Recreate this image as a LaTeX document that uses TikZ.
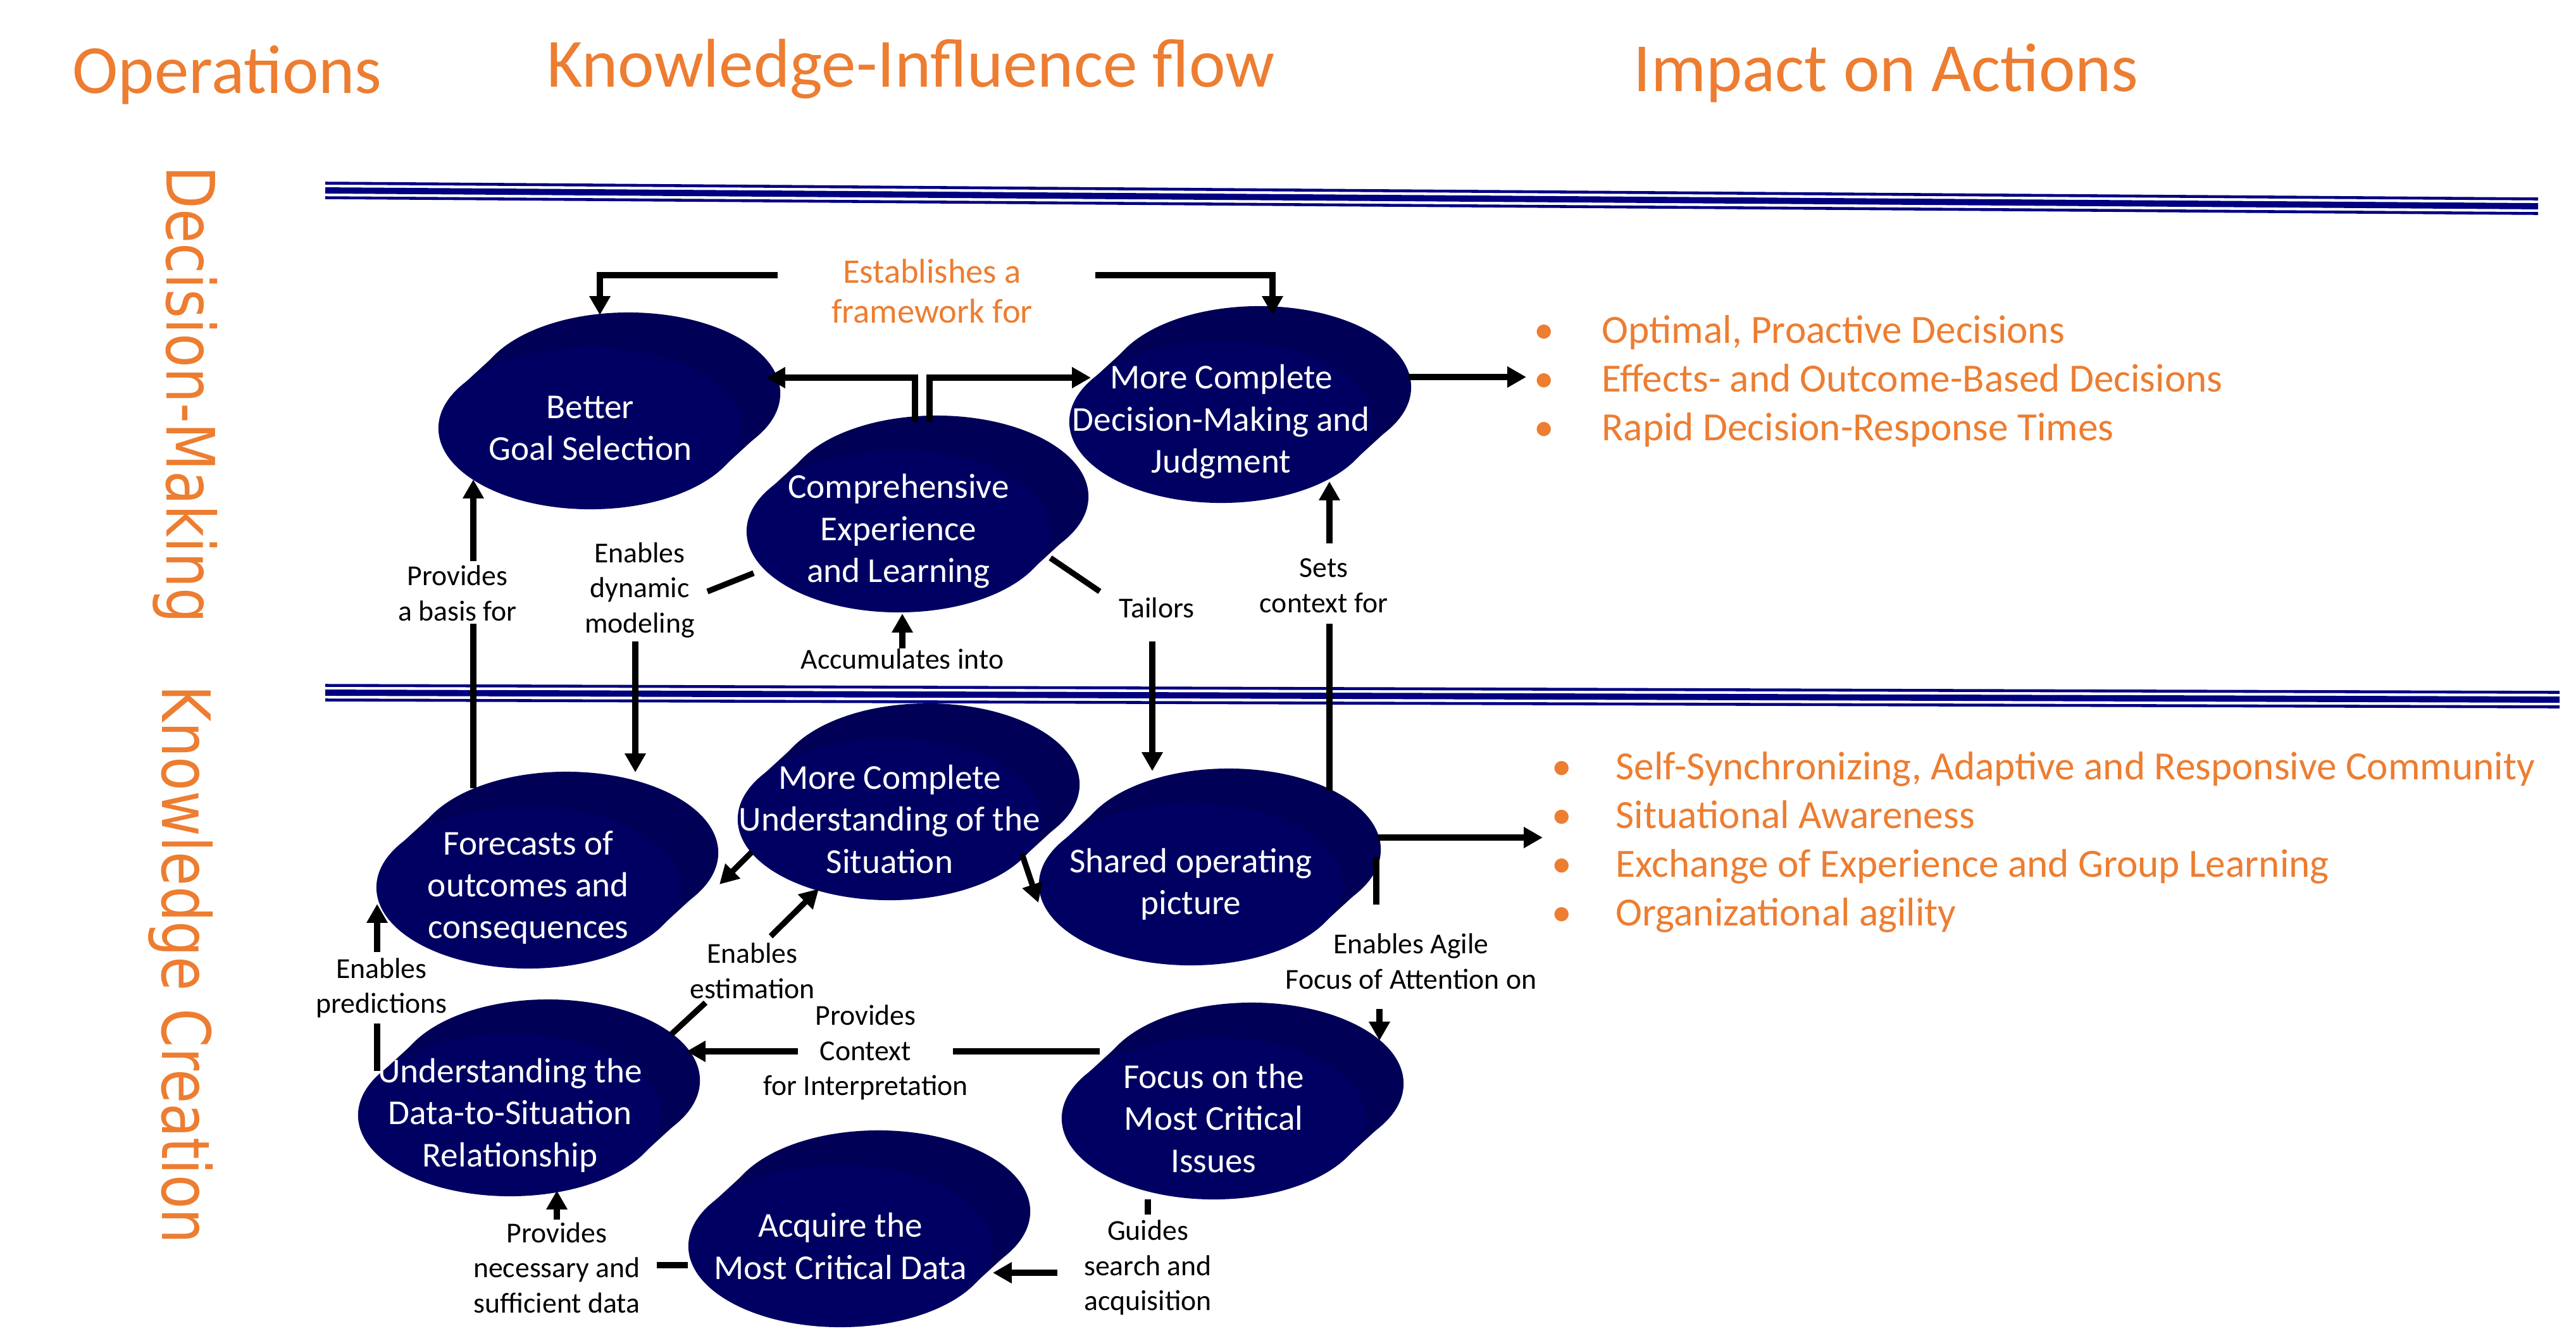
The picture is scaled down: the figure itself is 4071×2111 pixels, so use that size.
\documentclass[tikz,border=0pt]{standalone}
\usepackage{graphicx}
\usepackage{fontspec}
\setmainfont{Carlito}
\newfontfamily\sidefont{DejaVu Sans}
\usetikzlibrary{arrows.meta,calc}

\definecolor{navyline}{RGB}{0,0,128}
\definecolor{bubbledark}{RGB}{0,0,86}
\definecolor{bubblelight}{RGB}{0,0,98}
\definecolor{accent}{RGB}{237,125,49}

\tikzset{
  bubbletext/.style={text=white, align=center, font=\fontsize{15.7}{18.9}\selectfont, inner sep=0pt},
  linklabel/.style={align=center, font=\fontsize{13}{15.8}\selectfont, inner sep=0pt},
  accentlabel/.style={align=center, text=accent, font=\fontsize{15.5}{18}\selectfont, inner sep=0pt},
  link/.style={line width=2.6pt},
  arrowlink/.style={link, -{Triangle[length=8.5pt,width=9pt]}},
  heading/.style={text=accent, font=\fontsize{31}{37}\selectfont, anchor=base west, inner sep=0pt},
  sidelabel/.style={text=accent, font=\sidefont\fontsize{25}{30}\selectfont, rotate=-90, anchor=base, inner sep=0pt},
  impact/.style={text=accent, font=\fontsize{18}{21.9}\selectfont, anchor=west, align=left, inner sep=0pt}
}

% bubble: name, centre, text
\newcommand{\bubble}[3]{%
  \begin{scope}[shift={#2}]
    \fill[bubbledark] (60,-55) ellipse [x radius=2.4cm, y radius=1.28cm];
    \fill[bubbledark] (-207,-64) -- (-147,-119) -- (267,9) -- (207,64) -- cycle;
    \fill[bubblelight] (0,0) ellipse [x radius=2.4cm, y radius=1.28cm];
    \node[bubbletext] (#1) at (0,0) {#3};
  \end{scope}}

\begin{document}
\begin{tikzpicture}[x=0.01cm, y=-0.01cm]
\useasboundingbox (0,0) rectangle (4071,2111);

% headings
\node[heading] (ops) at (114,147) {Operations};
\node[heading] (kif) at (864,137) {Knowledge-Influence flow};
\node[heading] (ioa) at (2581,144) {Impact on Actions};
\node[sidelabel] (dm) at (263,624) {\scalebox{1}[1.2]{Decision-Making}};
\node[sidelabel] (kc) at (256,1525) {\scalebox{1}[1.2]{Knowledge Creation}};

% separators
\foreach \dy/\w in {-11.5/1.3pt, 0/2.8pt, 11.5/1.3pt} {
  \draw[navyline, line width=\w] (514,301+\dy) -- (4011,326+\dy);
  \draw[navyline, line width=\w] (514,1095+\dy) -- (4045,1106+\dy);
}

% bubbles
\bubble{gs}{(933,677)}{Better\\Goal Selection}
\bubble{cel}{(1420,840)}{Comprehensive\\Experience\\and Learning}
\bubble{dmj}{(1930,667)}{More Complete\\Decision-Making and\\Judgment}
\bubble{mcu}{(1406,1295)}{More Complete\\Understanding of the\\Situation}
\bubble{foc}{(835,1403)}{Forecasts of\\outcomes and\\consequences}
\bubble{sop}{(1882,1398)}{Shared operating\\picture}
\bubble{uds}{(806,1763)}{Understanding the\\Data-to-Situation\\Relationship}
\bubble{fmc}{(1918,1768)}{Focus on the\\Most Critical\\Issues}
\bubble{acq}{(1328,1970)}{Acquire the\\Most Critical Data}

% labels
\node[accentlabel] (est) at (1473,460) {Establishes a\\framework for};
\node[linklabel] (pbf) at (723,938) {Provides\\a basis for};
\node[linklabel] (edm) at (1011,933) {Enables\\dynamic\\modeling};
\node[linklabel] (acc) at (1426,1042) {Accumulates into};
\node[linklabel] (tai) at (1828,961) {Tailors};
\node[linklabel] (scf) at (2092,926) {Sets\\context for};
\node[linklabel] (efa) at (2230,1520) {Enables Agile\\Focus of Attention on};
\node[linklabel] (ees) at (1189,1535) {Enables\\estimation};
\node[linklabel] (epr) at (603,1562) {Enables\\predictions};
\node[linklabel] (pci) at (1368,1664) {Provides\\Context\\for Interpretation};
\node[linklabel] (gsa) at (1814,2004) {Guides\\search and\\acquisition};
\node[linklabel] (pns) at (880,2004) {Provides\\necessary and\\sufficient data};

% impact lists
\node[impact] (dmlist) at (2424,603) {%
  \makebox[30.4pt][l]{\textbullet}Optimal, Proactive Decisions\\
  \makebox[30.4pt][l]{\textbullet}Effects- and Outcome-Based Decisions\\
  \makebox[30.4pt][l]{\textbullet}Rapid Decision-Response Times};
\node[impact] (kclist) at (2452,1331) {%
  \makebox[28.7pt][l]{\textbullet}Self-Synchronizing, Adaptive and Responsive Community\\
  \makebox[28.7pt][l]{\textbullet}Situational Awareness\\
  \makebox[28.7pt][l]{\textbullet}Exchange of Experience and Group Learning\\
  \makebox[28.7pt][l]{\textbullet}Organizational agility};
\coordinate (dmjout) at (2412,596);
\coordinate (sopout) at (2438,1324);

% connectors
\draw[arrowlink] ($(est)+(-244,-25)$) -| ($(gs)+(15,-179)$);
\draw[arrowlink] ($(est)+(258,-25)$) -| ($(dmj)+(81,-169)$);
\draw[arrowlink] ($(cel)+(26,-173)$) |- ($(gs)+(278,-80)$);
\draw[arrowlink] ($(cel)+(49,-173)$) |- ($(dmj)+(-206,-70)$);
\draw[arrowlink] ($(dmj)+(296,-71)$) -- (dmjout);

\draw[link] ($(foc)+(-87,-157)$) -- ($(pbf)+(25,48)$);
\draw[arrowlink] ($(pbf)+(25,-51)$) -- ($(gs)+(-185,81)$);
\draw[link] ($(cel)+(-229,66)$) -- ($(edm)+(107,2)$);
\draw[arrowlink] ($(edm)+(-7,81)$) -- ($(foc)+(169,-182)$);
\draw[arrowlink] (acc.north) -- ($(cel)+(6,130)$);
\draw[link] ($(cel)+(240,42)$) -- ($(tai)+(-90,-26)$);
\draw[arrowlink] ($(tai)+(-7,53)$) -- ($(sop)+(-61,-179)$);
\draw[link] ($(sop)+(219,-148)$) -- ($(scf)+(9,60)$);
\draw[arrowlink] ($(scf)+(9,-67)$) -- ($(dmj)+(171,94)$);

\draw[arrowlink] ($(sop)+(296,-74)$) -- (sopout);
\draw[link] ($(sop)+(293,-43)$) -- ($(efa)+(-55,-90)$);
\draw[arrowlink] ($(efa)+(-50,75)$) -- ($(fmc)+(262,-123)$);
\draw[arrowlink] ($(mcu)+(-218,52)$) -- ($(foc)+(302,-5)$);
\draw[arrowlink] ($(mcu)+(209,55)$) -- ($(sop)+(-241,29)$);
\draw[link] ($(uds)+(255,-128)$) -- ($(ees)+(-74,50)$);
\draw[arrowlink] ($(ees)+(29,-55)$) -- ($(mcu)+(-112,110)$);
\draw[link] ($(uds)+(-210,-70)$) -- ($(epr)+(-7,56)$);
\draw[arrowlink] ($(epr)+(-7,-57)$) -- ($(foc)+(-239,26)$);
\draw[link] ($(fmc)+(-180,-106)$) -- ($(pci)+(138,-2)$);
\draw[arrowlink] ($(pci)+(-107,-2)$) -- ($(uds)+(279,-101)$);
\draw[link] ($(fmc)+(-104,128)$) -- ($(gsa)+(0,-84)$);
\draw[arrowlink] ($(gsa)+(-143,8)$) -- ($(acq)+(241,42)$);
\draw[link] ($(acq)+(-241,30)$) -- ($(pns)+(158,-4)$);
\draw[arrowlink] ($(pns)+(0,-76)$) -- ($(uds)+(74,119)$);
\end{tikzpicture}
\end{document}
